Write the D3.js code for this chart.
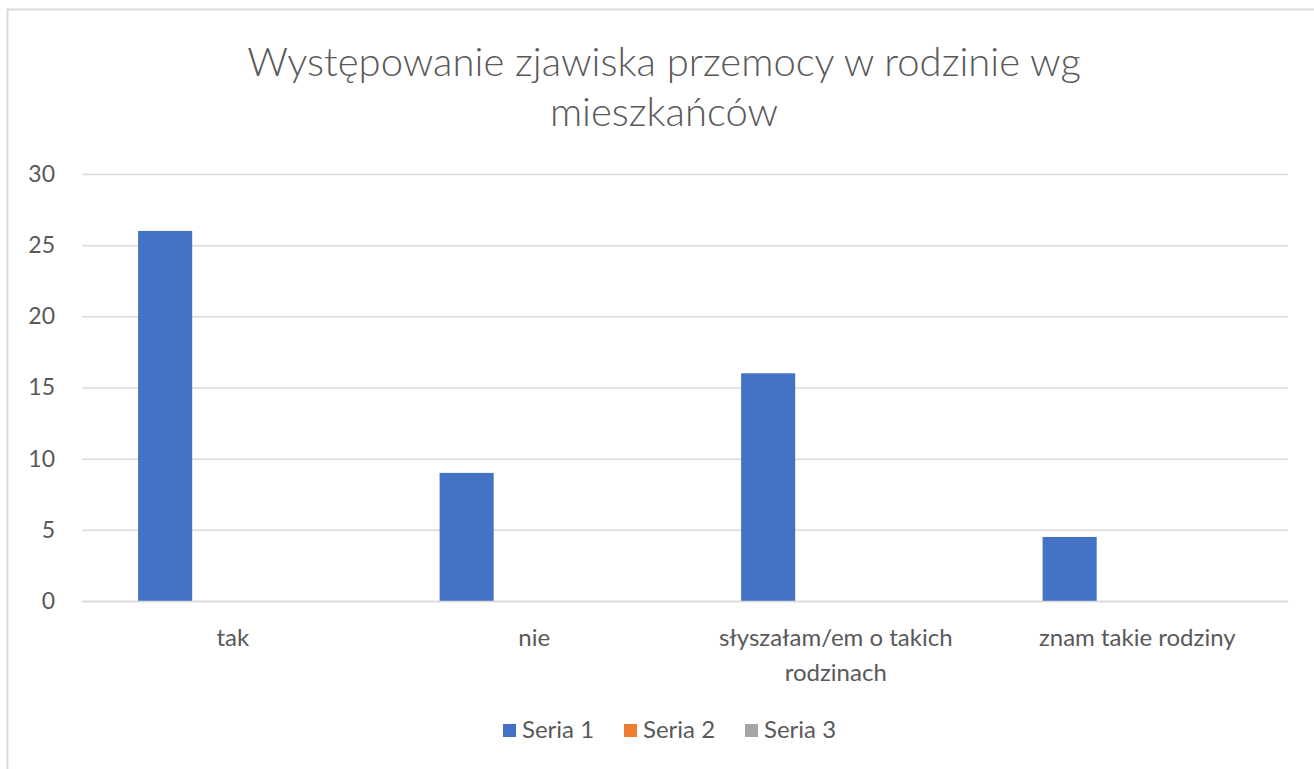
<!DOCTYPE html>
<html>
<head>
<meta charset="utf-8">
<script src="https://cdn.jsdelivr.net/npm/d3@7"></script>
<style>
  body { margin: 0; background: #fff; }
  text { font-family: Lato, "Open Sans", sans-serif; }
</style>
</head>
<body>
<div id="chart"></div>
<script>
// values
var categories = ["tak", "nie", "słyszałam/em o takich rodzinach", "znam takie rodziny"];
var seriesNames = ["Seria 1", "Seria 2", "Seria 3"];
var seria1 = [26, 9, 16, 4.5];
var seria2 = [0, 0, 0, 0];
var seria3 = [0, 0, 0, 0];
var yTicks = [0, 5, 10, 15, 20, 25, 30];
var titleLines = ["Występowanie zjawiska przemocy  w rodzinie wg", "mieszkańców"];

var colors = ["#4472C4", "#ED7D31", "#A5A5A5"];
var allSeries = [seria1, seria2, seria3];

var data = categories.map(function(c, i) {
  var row = {cat: c};
  seriesNames.forEach(function(s, j) { row[s] = allSeries[j][i]; });
  return row;
});

var W = 1314, H = 769;
var margin = {top: 174, right: 26, bottom: 168, left: 82};
var width = W - margin.left - margin.right,
    height = H - margin.top - margin.bottom;

var svg = d3.select("#chart").append("svg")
  .attr("width", W).attr("height", H);

// chart frame
svg.append("rect")
  .attr("x", 7.5).attr("y", 9.5)
  .attr("width", W + 10).attr("height", H + 10)
  .attr("fill", "#fff")
  .attr("stroke", "#d9d9d9").attr("stroke-width", 2);

var title = svg.append("text")
  .attr("x", 664).attr("y", 76)
  .attr("text-anchor", "middle")
  .attr("fill", "#595959")
  .attr("font-size", 40)
  .attr("font-weight", 300);
title.selectAll("tspan").data(titleLines).enter().append("tspan")
  .attr("x", 664)
  .attr("dy", function(d, i) { return i ? 50 : 0; })
  .text(function(d) { return d; });

var g = svg.append("g").attr("transform", "translate(" + margin.left + "," + margin.top + ")");

var x0 = d3.scaleBand().domain(categories).range([0, width]).padding(0);
var x1 = d3.scaleBand().domain(seriesNames).range([0, x0.bandwidth()])
  .paddingInner(0.2).paddingOuter(0.83);
var y = d3.scaleLinear().domain([0, 30]).range([height, 0]);

// gridlines
g.append("g")
  .call(d3.axisLeft(y).tickValues(yTicks).tickSize(-width).tickFormat(""))
  .call(function(a) {
    a.select(".domain").remove();
    a.selectAll("line").attr("stroke", "#d9d9d9").attr("stroke-width", 1.5);
  });

// y labels
g.append("g")
  .call(d3.axisLeft(y).tickValues(yTicks).tickSize(0).tickPadding(27))
  .call(function(a) {
    a.select(".domain").remove();
    a.selectAll("text").attr("fill", "#595959").attr("font-size", 23)
      .attr("font-family", "Lato, 'Open Sans', sans-serif");
  });

// bars
g.append("g").selectAll("g").data(data).enter().append("g")
  .attr("transform", function(d) { return "translate(" + x0(d.cat) + ",0)"; })
  .selectAll("rect")
  .data(function(d) { return seriesNames.map(function(s, j) { return {key: s, value: d[s], c: colors[j]}; }); })
  .enter().append("rect")
  .attr("x", function(d) { return x1(d.key); })
  .attr("y", function(d) { return y(d.value); })
  .attr("width", x1.bandwidth())
  .attr("height", function(d) { return height - y(d.value); })
  .attr("fill", function(d) { return d.c; });

// x axis
var xa = g.append("g")
  .attr("transform", "translate(0," + height + ")")
  .call(d3.axisBottom(x0).tickSize(0).tickPadding(28));
xa.select(".domain").attr("stroke", "#d9d9d9").attr("stroke-width", 1.5);
xa.selectAll("text").attr("fill", "#595959").attr("font-size", 24)
  .attr("font-family", "Lato, 'Open Sans', sans-serif")
  .call(wrap, 270);

function wrap(texts, w) {
  texts.each(function() {
    var t = d3.select(this), words = t.text().split(/\s+/), line = [], lineNo = 0;
    var yy = t.attr("y"), dy = parseFloat(t.attr("dy"));
    var tspan = t.text(null).append("tspan").attr("x", 0).attr("y", yy).attr("dy", dy + "em");
    words.forEach(function(word) {
      line.push(word);
      tspan.text(line.join(" "));
      if (tspan.node().getComputedTextLength() > w && line.length > 1) {
        line.pop();
        tspan.text(line.join(" "));
        line = [word];
        tspan = t.append("tspan").attr("x", 0).attr("y", yy)
          .attr("dy", (++lineNo * 1.45 + dy) + "em").text(word);
      }
    });
  });
}

// legend
var legX = [503, 624, 745];
var leg = svg.append("g").selectAll("g").data(seriesNames).enter().append("g")
  .attr("transform", function(d, i) { return "translate(" + legX[i] + ",724)"; });
leg.append("rect").attr("width", 13).attr("height", 13)
  .attr("fill", function(d, i) { return colors[i]; });
leg.append("text").attr("x", 19).attr("y", 14)
  .attr("fill", "#595959").attr("font-size", 24)
  .text(function(d) { return d; });
</script>
</body>
</html>
